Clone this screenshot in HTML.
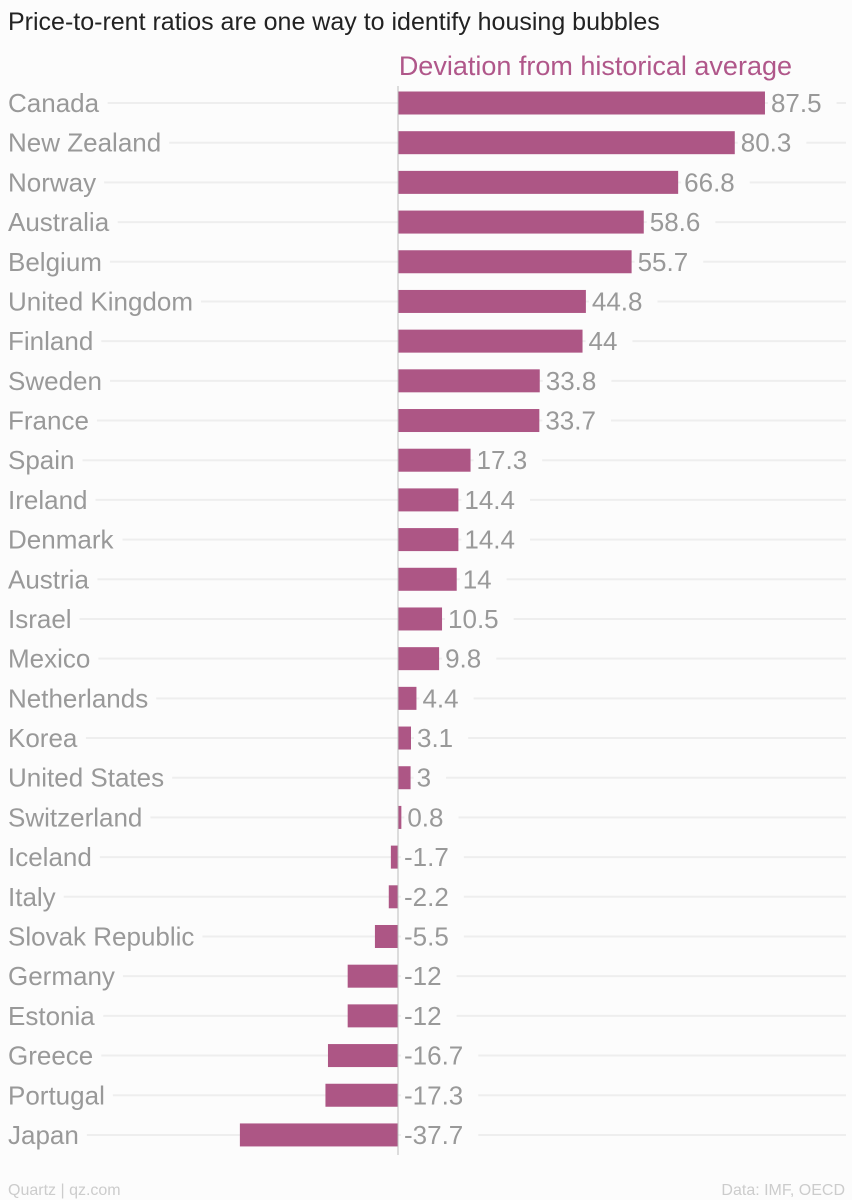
<!DOCTYPE html>
<html><head><meta charset="utf-8"><style>
html,body{margin:0;padding:0;background:#fcfcfc;}
svg{display:block;font-family:"Liberation Sans",sans-serif;}
</style></head><body>
<svg id="chart" width="852" height="1200" viewBox="0 0 852 1200">
<rect width="852" height="1200" fill="#fcfcfc"/>
<text x="8" y="30" font-size="25" fill="#222">Price-to-rent ratios are one way to identify housing bubbles</text>
<text x="792" y="75" font-size="27" fill="#b0578a" text-anchor="end">Deviation from historical average</text>
<g id="rows"></g>
<line id="zero" x1="398" x2="398" y1="86" y2="1155" stroke="#bbb" stroke-width="1"/>
<text x="8" y="1195" font-size="16" fill="#ccc">Quartz | qz.com</text>
<text x="845" y="1195" font-size="16" fill="#ccc" text-anchor="end">Data: IMF, OECD</text>
</svg>
<script>
const categories=["Canada","New Zealand","Norway","Australia","Belgium","United Kingdom","Finland","Sweden","France","Spain","Ireland","Denmark","Austria","Israel","Mexico","Netherlands","Korea","United States","Switzerland","Iceland","Italy","Slovak Republic","Germany","Estonia","Greece","Portugal","Japan"];
const values=[87.5,80.3,66.8,58.6,55.7,44.8,44,33.8,33.7,17.3,14.4,14.4,14,10.5,9.8,4.4,3.1,3,0.8,-1.7,-2.2,-5.5,-12,-12,-16.7,-17.3,-37.7];
const labels=["87.5","80.3","66.8","58.6","55.7","44.8","44","33.8","33.7","17.3","14.4","14.4","14","10.5","9.8","4.4","3.1","3","0.8","-1.7","-2.2","-5.5","-12","-12","-16.7","-17.3","-37.7"];
const NS="http://www.w3.org/2000/svg";
const x0=398, k=4.194;
const xs=v=>x0+v*k;
const ys=i=>103+i*39.69;
const g=document.getElementById('rows');
function mk(t,a){const e=document.createElementNS(NS,t);for(const n in a)e.setAttribute(n,a[n]);g.appendChild(e);return e;}
categories.forEach((c,i)=>{
  const y=ys(i), v=values[i];
  const gl=mk('line',{x1:0,x2:846,y1:y,y2:y,stroke:'#eee','stroke-width':2});
  
  
  const t=mk('text',{x:8,y:y+9,'font-size':26,fill:'#999'});
  t.textContent=c;
  
  
  const bb=t.getBBox();
  const bg=mk('rect',{x:0,y:y-14,width:bb.x+bb.width+8,height:28,fill:'#fcfcfc'});
  
  
  g.appendChild(t);
  const x1=Math.min(xs(0),xs(v)), w=Math.abs(xs(v)-xs(0));
  const b=mk('rect',{x:x1,y:y-11.5,width:Math.max(w,1),height:23,fill:'#ad5685'});
  
  
  const lx=(v>=0?xs(v):x0)+6;
  const vt=mk('text',{x:lx,y:y+9,'font-size':26,fill:'#999'});
  vt.textContent=labels[i];
  
  
  const vb=vt.getBBox();
  const vbg=mk('rect',{x:vb.x-3,y:y-14,width:vb.width+18,height:28,fill:'#fcfcfc'});
  
  
  g.appendChild(vt);
});
</script>
</body></html>
